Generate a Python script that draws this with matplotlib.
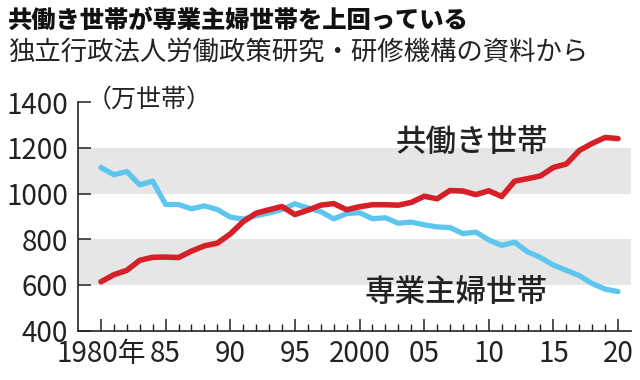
import matplotlib
matplotlib.use("Agg")
import matplotlib.pyplot as plt

plt.rcParams['font.family'] = ['Noto Sans CJK JP', 'DejaVu Sans']

years = list(range(1980, 2021))
# 共働き世帯 (万世帯)
dual = [614, 645, 664, 708, 721, 722, 720, 748, 771, 783,
        823, 877, 914, 929, 943, 908, 927, 949, 956, 929,
        942, 951, 951, 949, 961, 988, 977, 1013, 1011, 995,
        1012, 987, 1054, 1065, 1077, 1114, 1129, 1188, 1219, 1245,
        1240]
# 専業主婦世帯 (万世帯)
housewife = [1114, 1082, 1096, 1038, 1054, 952, 952, 933, 946, 930,
             897, 888, 903, 915, 930, 955, 937, 921, 889, 912,
             916, 890, 894, 870, 875, 863, 854, 851, 825, 831,
             797, 773, 787, 745, 720, 687, 664, 641, 606, 582,
             571]

xticks = [1980, 1985, 1990, 1995, 2000, 2005, 2010, 2015, 2020]
xticklabels = ['1980年', '85', '90', '95', '2000', '05', '10', '15', '20']
yticks = [400, 600, 800, 1000, 1200, 1400]
bands = [(600, 800), (1000, 1200)]

red = '#d71f27'
blue = '#5cc6ef'

fig = plt.figure(figsize=(6.4, 3.8), dpi=100)
ax = fig.add_axes([0.1214, 0.1297, 0.8645, 0.6018])

for lo, hi in bands:
    ax.axhspan(lo, hi, color='#e6e6e6', lw=0, zorder=0)

ax.plot(years, housewife, color=blue, lw=3.8, solid_capstyle='round',
        solid_joinstyle='round', zorder=3)
ax.plot(years, dual, color=red, lw=4.0, solid_capstyle='round',
        solid_joinstyle='round', zorder=4)

ax.set_xlim(1978.2, 2021.0)
ax.set_ylim(400, 1400)
ax.set_xticks(xticks)
ax.set_xticklabels(xticklabels)
ax.set_xticks(years, minor=True)
ax.set_yticks(yticks)

for s in ['top', 'right']:
    ax.spines[s].set_visible(False)
for s in ['left', 'bottom']:
    ax.spines[s].set_linewidth(1.2)
    ax.spines[s].set_color('#222222')

ax.tick_params(axis='x', which='major', direction='in', length=9, width=1.1,
               labelsize=20, pad=6, colors='#222222')
ax.tick_params(axis='x', which='minor', direction='in', length=5, width=1.0,
               colors='#222222')
ax.tick_params(axis='y', direction='in', length=9, width=1.1,
               labelsize=20, pad=7, colors='#222222')

ax.text(2008.7, 1222, '共働き世帯', fontsize=22, ha='center', va='center',
        color='#222222', fontweight='medium', zorder=5)
ax.text(2007.5, 566, '専業主婦世帯', fontsize=22, ha='center', va='center',
        color='#222222', fontweight='medium', zorder=5)

fig.text(0.135, 0.737, '（万世帯）', fontsize=18, ha='left', va='center',
         color='#222222')
fig.text(0.0125, 0.947, '共働き世帯が専業主婦世帯を上回っている', fontsize=17.5,
         fontweight='black', ha='left', va='center', color='#111111')
fig.text(0.0125, 0.863, '独立行政法人労働政策研究・研修機構の資料から', fontsize=19,
         ha='left', va='center', color='#222222')

fig.savefig('out.png', dpi=100)
